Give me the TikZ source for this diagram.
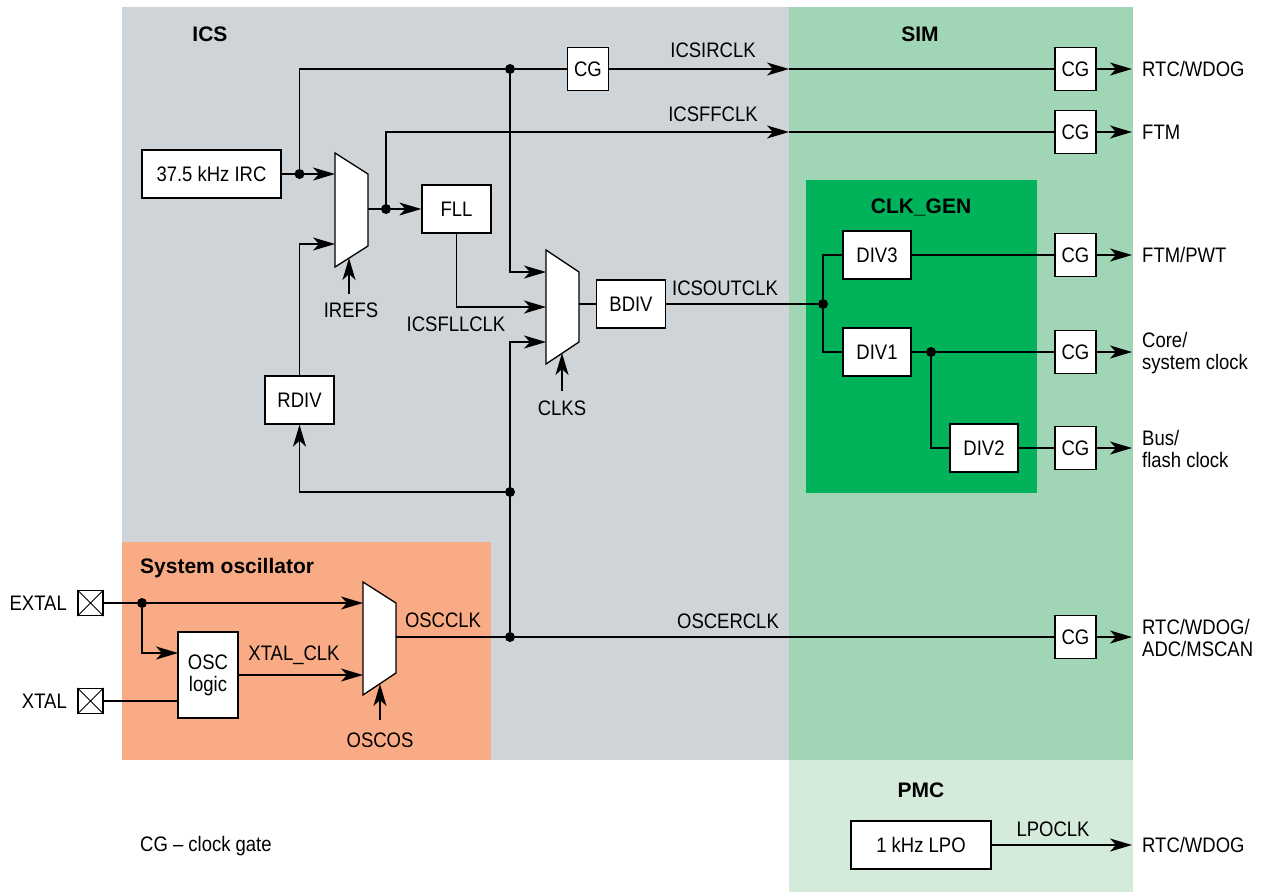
\documentclass[tikz,border=0pt]{standalone}
\usepackage{fontspec}
\setmainfont{Liberation Sans}[FakeStretch=0.88]
\newfontfamily\titlefont{Liberation Sans}
\usetikzlibrary{arrows.meta}
\definecolor{icsgray}{HTML}{CFD4D9}
\definecolor{simgreen}{HTML}{A0D5B5}
\definecolor{pmcgreen}{HTML}{D4EBDC}
\definecolor{clkgreen}{HTML}{00B25A}
\definecolor{oscorange}{HTML}{F8AB84}
\newcommand\labfont{\fontsize{21}{22}\selectfont}
\newcommand\ttlfont{\titlefont\bfseries\fontsize{21}{22}\selectfont}
\begin{document}
\begin{tikzpicture}[x=1pt,y=-1pt,
  blk/.style={draw, fill=white, line width=1.3pt, inner sep=0pt, minimum height=48pt, font=\labfont},
  cg/.style={blk, minimum width=41pt, minimum height=43pt},
  pad/.style={draw, fill=white, line width=1.1pt, inner sep=0pt, minimum size=25pt},
  wire/.style={line width=1.4pt},
  arr/.style={-{Stealth[length=22pt,width=13pt,inset=6pt]}},
  dot/.style={circle, fill=black, inner sep=0pt, minimum size=10pt},
  lab/.style={font=\labfont, inner sep=1pt},
  ttl/.style={font=\ttlfont, inner sep=0pt},
  mux/.style={draw, fill=white, line width=1.3pt}]
\useasboundingbox (0,0) rectangle (1263,892);
% regions
\fill[icsgray] (122,7) rectangle (789,760);
\fill[simgreen] (789,7) rectangle (1133,760);
\fill[pmcgreen] (789,760) rectangle (1133,892);
\fill[clkgreen] (806,180) rectangle (1037,493);
\fill[oscorange] (122,542) rectangle (491,760);
% titles
\node[ttl] (tics) at (210,34) {ICS};
\node[ttl] (tsim) at (920,34) {SIM};
\node[ttl] (tclk) at (921,207) {CLK\_GEN};
\node[ttl, anchor=west] (tosc) at (140,568) {System oscillator};
\node[ttl] (tpmc) at (921,790) {PMC};
% muxes
\draw[mux] (335,153) -- (368,174) -- (368,246) -- (335,267) -- cycle;
\coordinate (m1in1) at (335,174);
\coordinate (m1in2) at (335,244);
\coordinate (m1out) at (368,209);
\coordinate (m1sel) at (349,258);
\draw[mux] (546,250) -- (579,272) -- (579,342) -- (546,364) -- cycle;
\coordinate (m2in1) at (546,272);
\coordinate (m2in2) at (546,307);
\coordinate (m2in3) at (546,342);
\coordinate (m2out) at (579,304);
\coordinate (m2sel) at (562,353);
\draw[mux] (363,582) -- (396,603) -- (396,673) -- (363,695) -- cycle;
\coordinate (m3in1) at (363,603);
\coordinate (m3in2) at (363,675);
\coordinate (m3out) at (396,637);
\coordinate (m3sel) at (380,684);
% blocks
\node[blk, minimum width=139pt] (irc) at (211.5,174) {37.5 kHz IRC};
\node[blk, minimum width=69pt] (fll) at (456.5,209) {FLL};
\node[blk, minimum width=69pt] (bdiv) at (631,304) {BDIV};
\node[blk, minimum width=69pt] (rdiv) at (299.5,400) {RDIV};
\node[blk, minimum width=68pt] (div3) at (877,255) {DIV3};
\node[blk, minimum width=68pt] (div1) at (877,352) {DIV1};
\node[blk, minimum width=68pt] (div2) at (984,448) {DIV2};
\node[blk, minimum width=60pt, minimum height=86pt, align=center] (osc) at (208,675) {OSC\\logic};
\node[blk, minimum width=140pt] (lpo) at (921,845) {1 kHz LPO};
\node[cg] (cgi) at (588,69) {CG};
\node[cg] (cg1) at (1075.5,69) {CG};
\node[cg] (cg2) at (1075.5,132) {CG};
\node[cg] (cg3) at (1075.5,255) {CG};
\node[cg] (cg4) at (1075.5,352) {CG};
\node[cg] (cg5) at (1075.5,448) {CG};
\node[cg] (cg6) at (1075.5,637) {CG};
% pads
\node[pad] (pe) at (90.5,603) {};
\draw[line width=0.9pt] (pe.north west) -- (pe.south east) (pe.north east) -- (pe.south west);
\node[pad] (px) at (90.5,701) {};
\draw[line width=0.9pt] (px.north west) -- (px.south east) (px.north east) -- (px.south west);
% dots
\node[dot] (dA) at (299.5,174) {};
\node[dot] (dB) at (510,69) {};
\node[dot] (dC) at (386,209) {};
\node[dot] (dD) at (510,492) {};
\node[dot] (dE) at (510,637) {};
\node[dot] (dF) at (823,304) {};
\node[dot] (dG) at (931,352) {};
\node[dot] (dH) at (142,603) {};
% helper coordinates
\coordinate (sim1) at (789,69);
\coordinate (sim2) at (789,132);
\coordinate (oscA) at (178,653);
\coordinate (oscB) at (178,701);
\coordinate (o1) at (1132,69);
\coordinate (o2) at (1132,132);
\coordinate (o3) at (1132,255);
\coordinate (o4) at (1132,352);
\coordinate (o5) at (1132,448);
\coordinate (o6) at (1132,637);
\coordinate (o7) at (1132,845);
% wires ICS
\draw[wire,arr] (irc.east) -- (m1in1);
\draw[wire] (dA) |- (dB);
\draw[wire] (dB) -- (cgi.west);
\draw[wire,arr] (cgi.east) -- (sim1);
\draw[wire] (sim1) -- (cg1.west);
\draw[wire,arr] (dB) |- (m2in1);
\draw[wire,arr] (m1out) -- (fll.west);
\draw[wire,arr] (dC) |- (sim2);
\draw[wire] (sim2) -- (cg2.west);
\draw[wire,arr] (fll.south) |- (m2in2);
\draw[wire,arr] (rdiv.north) |- (m1in2);
\draw[wire,arr] (dD) -| (rdiv.south);
\draw[wire,arr] (dE) |- (m2in3);
\draw[wire] (m2out) -- (bdiv.west);
\draw[wire] (bdiv.east) -- (dF);
% CLK_GEN
\draw[wire] (dF) |- (div3.west);
\draw[wire] (dF) |- (div1.west);
\draw[wire] (div3.east) -- (cg3.west);
\draw[wire] (div1.east) -- (cg4.west);
\draw[wire] (dG) |- (div2.west);
\draw[wire] (div2.east) -- (cg5.west);
% outputs
\draw[wire,arr] (cg1.east) -- (o1);
\draw[wire,arr] (cg2.east) -- (o2);
\draw[wire,arr] (cg3.east) -- (o3);
\draw[wire,arr] (cg4.east) -- (o4);
\draw[wire,arr] (cg5.east) -- (o5);
\draw[wire,arr] (cg6.east) -- (o6);
\draw[wire,arr] (lpo.east) -- (o7);
% oscillator
\draw[wire,arr] (pe.east) -- (m3in1);
\draw[wire,arr] (dH) |- (oscA);
\draw[wire] (px.east) -- (oscB);
\draw[wire,arr] (osc.east |- m3in2) -- (m3in2);
\draw[wire] (m3out) -- (cg6.west);
% select labels and arrows
\node[lab] (irefs) at (351,310) {IREFS};
\draw[wire,arr] (349,294) -- (m1sel);
\node[lab] (clks) at (562,408) {CLKS};
\draw[wire,arr] (562,391) -- (m2sel);
\node[lab] (oscos) at (380,740) {OSCOS};
\draw[wire,arr] (380,720) -- (m3sel);
% signal labels
\node[lab] (lirc) at (713,50) {ICSIRCLK};
\node[lab] (lff) at (713,114) {ICSFFCLK};
\node[lab] (lout) at (725,288) {ICSOUTCLK};
\node[lab] (lfll) at (456,324) {ICSFLLCLK};
\node[lab] (lxtc) at (294,655) {XTAL\_CLK};
\node[lab] (losc) at (443,620) {OSCCLK};
\node[lab] (loscer) at (728,621) {OSCERCLK};
\node[lab] (llpo) at (1053,829) {LPOCLK};
\node[lab, anchor=east] (lext) at (68,603) {EXTAL};
\node[lab, anchor=east] (lxt) at (68,701) {XTAL};
\node[lab, anchor=west] (lcg) at (139,846) {CG -- clock gate};
% output labels
\node[lab, anchor=west] (t1) at (1141,69) {RTC/WDOG};
\node[lab, anchor=west] (t2) at (1141,132) {FTM};
\node[lab, anchor=west] (t3) at (1141,255) {FTM/PWT};
\node[lab, anchor=west, align=left] (t4) at (1141,353) {Core/\\system clock};
\node[lab, anchor=west, align=left] (t5) at (1141,449) {Bus/\\flash clock};
\node[lab, anchor=west, align=left] (t6) at (1141,638) {RTC/WDOG/\\ADC/MSCAN};
\node[lab, anchor=west] (t7) at (1141,845) {RTC/WDOG};
\end{tikzpicture}
\end{document}
